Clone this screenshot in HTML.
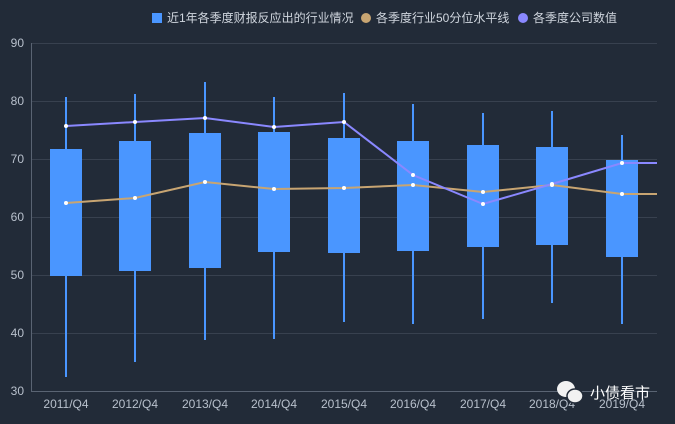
<!DOCTYPE html><html><head><meta charset="utf-8"><style>body{margin:0;background:#222b38;}svg{display:block}text{font-family:"Liberation Sans","Noto Sans CJK SC",sans-serif}</style></head><body>
<svg width="675" height="424" viewBox="0 0 675 424">
<rect width="675" height="424" fill="#222b38"/>
<g stroke="#38414f" stroke-width="1">
<line x1="31" y1="43.5" x2="657" y2="43.5"/><line x1="31" y1="101.5" x2="657" y2="101.5"/><line x1="31" y1="159.5" x2="657" y2="159.5"/><line x1="31" y1="217.5" x2="657" y2="217.5"/><line x1="31" y1="275.5" x2="657" y2="275.5"/><line x1="31" y1="333.5" x2="657" y2="333.5"/>
</g>
<line x1="31" y1="391.5" x2="657" y2="391.5" stroke="#5a6473"/>
<line x1="31.5" y1="43" x2="31.5" y2="391" stroke="#5a6473"/>
<g fill="#b8c0cc" font-size="12" text-anchor="end">
<text x="24" y="47">90</text><text x="24" y="105">80</text><text x="24" y="163">70</text><text x="24" y="221">60</text><text x="24" y="279">50</text><text x="24" y="337">40</text><text x="24" y="395">30</text>
</g>
<g fill="#b8c0cc" font-size="12" text-anchor="middle">
<text x="66" y="408">2011/Q4</text><text x="135" y="408">2012/Q4</text><text x="205" y="408">2013/Q4</text><text x="274" y="408">2014/Q4</text><text x="344" y="408">2015/Q4</text><text x="413" y="408">2016/Q4</text><text x="483" y="408">2017/Q4</text><text x="552" y="408">2018/Q4</text><text x="622" y="408">2019/Q4</text>
</g>
<g stroke="#4a96ff" stroke-width="2">
<line x1="66" y1="97" x2="66" y2="377"/><line x1="135" y1="94" x2="135" y2="362"/><line x1="205" y1="82" x2="205" y2="340"/><line x1="274" y1="97" x2="274" y2="339"/><line x1="344" y1="93" x2="344" y2="322"/><line x1="413" y1="104" x2="413" y2="324"/><line x1="483" y1="113" x2="483" y2="319"/><line x1="552" y1="111" x2="552" y2="303"/><line x1="622" y1="135" x2="622" y2="324"/>
</g>
<g fill="#4a96ff">
<rect x="50" y="149" width="32" height="127"/><rect x="119" y="141" width="32" height="130"/><rect x="189" y="133" width="32" height="135"/><rect x="258" y="132" width="32" height="120"/><rect x="328" y="138" width="32" height="115"/><rect x="397" y="141" width="32" height="110"/><rect x="467" y="145" width="32" height="102"/><rect x="536" y="147" width="32" height="98"/><rect x="606" y="160" width="32" height="97"/>
</g>
<polyline fill="none" stroke="#c8a572" stroke-width="2" points="66,203 135,198 205,182 274,189 344,188 413,185 483,192 552,185 622,194 657,194"/>
<polyline fill="none" stroke="#8a88ff" stroke-width="2" points="66,126 135,122 205,118 274,127 344,122 413,175 483,204 552,184 622,163 657,163"/>
<g fill="#fff">
<circle cx="66" cy="203" r="2"/><circle cx="135" cy="198" r="2"/><circle cx="205" cy="182" r="2"/><circle cx="274" cy="189" r="2"/><circle cx="344" cy="188" r="2"/><circle cx="413" cy="185" r="2"/><circle cx="483" cy="192" r="2"/><circle cx="552" cy="185" r="2"/><circle cx="622" cy="194" r="2"/>
<circle cx="66" cy="126" r="2"/><circle cx="135" cy="122" r="2"/><circle cx="205" cy="118" r="2"/><circle cx="274" cy="127" r="2"/><circle cx="344" cy="122" r="2"/><circle cx="413" cy="175" r="2"/><circle cx="483" cy="204" r="2"/><circle cx="552" cy="184" r="2"/><circle cx="622" cy="163" r="2"/>
</g>
<rect x="152" y="13" width="10" height="10" fill="#4a96ff"/>
<text x="167" y="22" fill="#d0d6de" font-size="12">近1年各季度财报反应出的行业情况</text>
<circle cx="366" cy="18" r="5" fill="#c8a572"/>
<text x="376" y="22" fill="#d0d6de" font-size="12">各季度行业50分位水平线</text>
<circle cx="523" cy="18" r="5" fill="#8a88ff"/>
<text x="533" y="22" fill="#d0d6de" font-size="12">各季度公司数值</text>
<g fill="#f2f2f2"><ellipse cx="566" cy="389" rx="9" ry="8"/><ellipse cx="575" cy="396" rx="8" ry="7" stroke="#222b38" stroke-width="1.5"/></g>
<text x="590" y="398" fill="#ffffff" font-size="15">小债看市</text>
</svg></body></html>
